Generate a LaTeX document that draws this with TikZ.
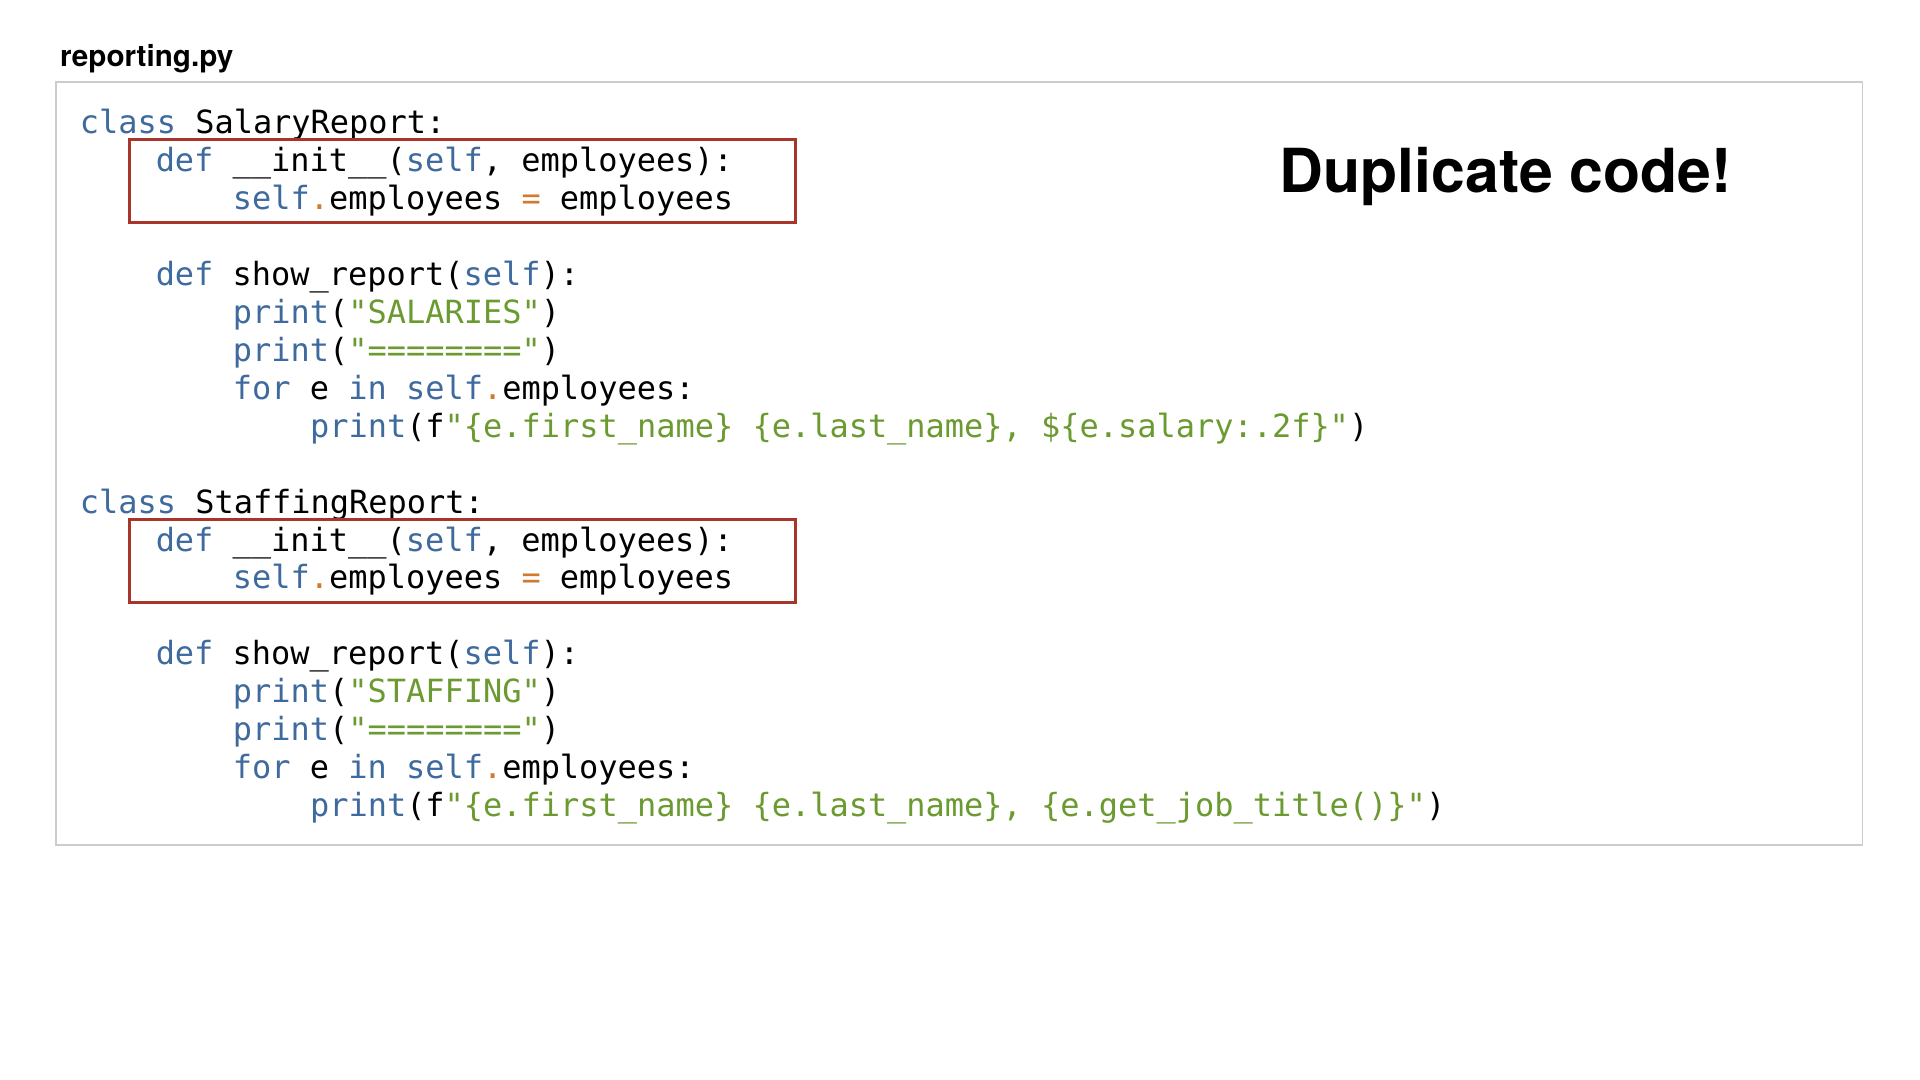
\documentclass[tikz,border=0pt]{standalone}
\usepackage{fontspec}
\setmainfont{TeX Gyre Heros}
\newfontfamily\codefont{DejaVu Sans Mono}
\definecolor{kwblue}{HTML}{3F6A9E}
\definecolor{strgreen}{HTML}{6A9A30}
\definecolor{oporange}{HTML}{D07A30}
\definecolor{dupred}{HTML}{A8352A}
\definecolor{framegray}{HTML}{CCCCCC}
\newcommand{\kw}[1]{\textcolor{kwblue}{#1}}
\newcommand{\str}[1]{\textcolor{strgreen}{#1}}
\newcommand{\op}[1]{\textcolor{oporange}{#1}}
\tikzset{
	code/.style={anchor=base west,inner sep=0pt,font=\codefont\fontsize{26.1}{31}\selectfont},
	dupbox/.style={draw=dupred,line width=2.5pt,minimum width=544pt,minimum height=68pt,inner sep=0pt},
}

\begin{document}
\begin{tikzpicture}[x=1pt,y=-1pt]
			\useasboundingbox (0,0) rectangle (1568,882);

			% file name and frame
			\node[anchor=base west,inner sep=0pt,font=\bfseries\fontsize{24.2}{27}\selectfont] (fname) at (49,54) {reporting.py};
			\node[draw=framegray,line width=1.5pt,minimum width=1475pt,minimum height=623pt,inner sep=0pt] (frame) at (783.5,378.5) {};

			% SalaryReport
			\node[code] (sal1) at (65,109) {\kw{class} SalaryReport:};
			\node[code] (sal2) at (127,140) {\kw{def} \_\_init\_\_(\kw{self}, employees):};
			\node[code] (sal3) at (190,171) {\kw{self}\op{.}employees \op{=} employees};
			\node[code] (sal4) at (127,233) {\kw{def} show\_report(\kw{self}):};
			\node[code] (sal5) at (190,264) {\kw{print}(\str{"SALARIES"})};
			\node[code] (sal6) at (190,295) {\kw{print}(\str{"========"})};
			\node[code] (sal7) at (190,326) {\kw{for} e \kw{in} \kw{self}\op{.}employees:};
			\node[code] (sal8) at (253,357) {\kw{print}(f\str{"\{e.first\_name\} \{e.last\_name\}, \$\{e.salary:.2f\}"})};

			% StaffingReport
			\node[code] (sta1) at (65,419) {\kw{class} StaffingReport:};
			\node[code] (sta2) at (127,450) {\kw{def} \_\_init\_\_(\kw{self}, employees):};
			\node[code] (sta3) at (190,481) {\kw{self}\op{.}employees \op{=} employees};
			\node[code] (sta4) at (127,543) {\kw{def} show\_report(\kw{self}):};
			\node[code] (sta5) at (190,574) {\kw{print}(\str{"STAFFING"})};
			\node[code] (sta6) at (190,605) {\kw{print}(\str{"========"})};
			\node[code] (sta7) at (190,636) {\kw{for} e \kw{in} \kw{self}\op{.}employees:};
			\node[code] (sta8) at (253,667) {\kw{print}(f\str{"\{e.first\_name\} \{e.last\_name\}, \{e.get\_job\_title()\}"})};

			% duplicated constructors
			\node[dupbox] (salinit) at (378,148) {};
			\node[dupbox] (stainit) at (378,458) {};

			% remark
			\node[anchor=base west,inner sep=0pt,font=\bfseries\fontsize{49.6}{56}\selectfont] (remark) at (1045,157) {Duplicate code!};
		\end{tikzpicture}
\end{document}
